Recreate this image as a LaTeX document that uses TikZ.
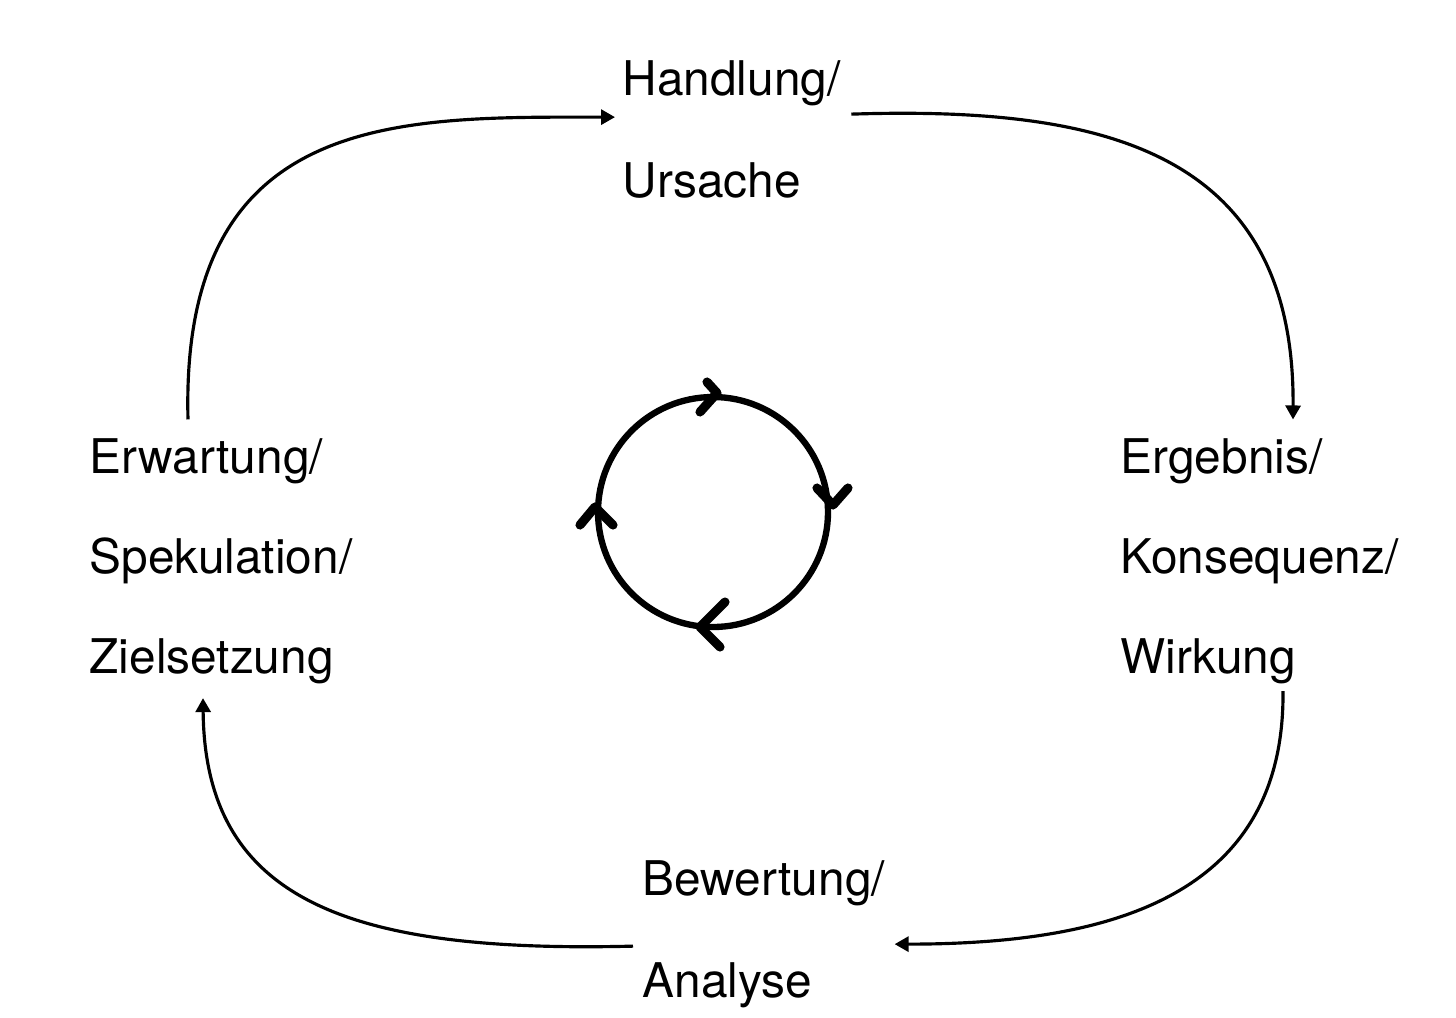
\documentclass[tikz,border=0pt]{standalone}
\usepackage{fontspec}
\setmainfont{TeX Gyre Heros}
\usepackage{tikz}
\usetikzlibrary{calc}
\usetikzlibrary{arrows.meta}
\newcommand{\labelsize}{\fontsize{13.6pt}{16pt}\selectfont}
\tikzset{
    lbl/.style={anchor=base west, inner sep=0pt, font=\labelsize},
    flow/.style={line width=0.9pt, -{Triangle[length=1.4mm, width=1.5mm]}},
    ring/.style={draw, circle, line width=1.8pt, minimum size=23mm, inner sep=0pt},
    chev/.style={line width=2.6pt, line cap=round, line join=round}
}
\begin{document}
\begin{tikzpicture}[x=0.1mm, y=-0.1mm]
    \useasboundingbox (0,0) rectangle (1456,1017);
    \node[lbl] (Hand1) at (622,95) {Handlung/};
    \node[lbl] (Hand2) at (622,197) {Ursache};
    \node[lbl] (Erg1) at (1120,473) {Ergebnis/};
    \node[lbl] (Erg2) at (1120,573) {Konsequenz/};
    \node[lbl] (Erg3) at (1120,673) {Wirkung};
    \node[lbl] (Bew1) at (642,895) {Bewertung/};
    \node[lbl] (Bew2) at (642,997) {Analyse};
    \node[lbl] (Erw1) at (89,473) {Erwartung/};
    \node[lbl] (Erw2) at (89,573) {Spekulation/};
    \node[lbl] (Erw3) at (89,673) {Zielsetzung};

    \draw[flow] ($(Erw1.north west)+(99,-18)$) .. controls +(-8,-310) and +(-215,0) .. ($(Hand1.south west)+(-7,11)$);
    \draw[flow] ($(Hand1.south east)+(10,8)$) .. controls +(250,-8) and +(2,-270) .. ($(Erg1.north west)+(173,-18)$);
    \draw[flow] ($(Erg3.south west)+(163,7)$) .. controls +(2,210) and +(207,0) .. ($(Bew1.south east)+(9,38)$);
    \draw[flow] ($(Bew1.south west)+(-9,40)$) .. controls +(-283,7) and +(2,203) .. ($(Erw3.south west)+(114,14)$);

    \node[ring] (Cyc) at (713,512) {};
    \draw[chev] (707,382) -- (717,393) -- (700,412);
    \draw[chev] (817,488) -- (833,505) -- (848,488);
    \draw[chev] (725,602) -- (700,627) -- (720,647);
    \draw[chev] (580,525) -- (595,507) -- (613,525);
\end{tikzpicture}
\end{document}
